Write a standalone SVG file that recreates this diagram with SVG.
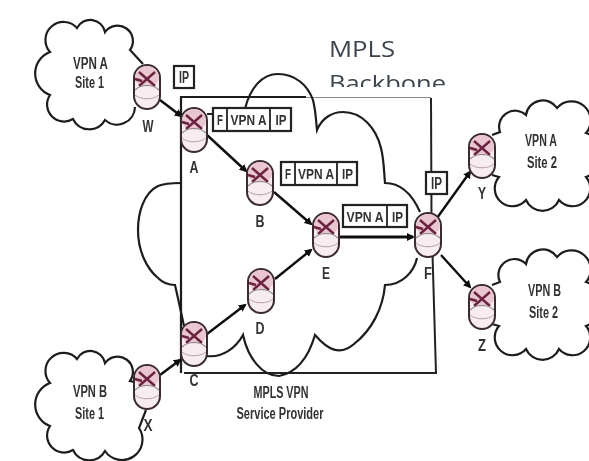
<svg xmlns="http://www.w3.org/2000/svg" width="589" height="461" viewBox="0 0 589 461">
<style>
.l{fill:none;stroke:#1c1c1c;stroke-width:2.2}
.c{stroke:#111;stroke-width:2.4;fill:none;marker-end:url(#ah)}
.b{fill:#fff;stroke:#222;stroke-width:2.200}
.d{stroke:#222;stroke-width:1.800}
text{font-family:"Liberation Sans",Arial,sans-serif;fill:#333;font-weight:bold}
.t{font-size:16px;text-anchor:middle}
.k{font-size:14.500px;text-anchor:middle}
.n{font-size:16px;text-anchor:middle}
.m{font-family:"Open Sans",sans-serif;font-size:22px;fill:#3c4450;font-weight:normal}
</style>
<defs>
<filter id="s" x="-5%" y="-5%" width="110%" height="110%"><feGaussianBlur stdDeviation="0.7"/></filter>
<marker id="ah" markerWidth="9" markerHeight="9" refX="6" refY="4" orient="auto" markerUnits="userSpaceOnUse"><path d="M0 0L8 4L0 8z" fill="#111"/></marker>
<clipPath id="cl"><rect x="320" y="30" width="140" height="57"/></clipPath>
<g id="router">
<rect x="-13" y="-22" width="26" height="44" rx="13" ry="13" fill="#f7ecef" stroke="#3a2b33" stroke-width="2"/>
<path d="M-12-9C-12-25 12-25 12-9C12 2-12 2-12-9z" fill="#e9c6d0"/>
<path d="M-8-15L8-1M8-15L-8-1M-12-8L-5-6" stroke="#6b2340" stroke-width="2.400" fill="none"/>
<path d="M-12 3C-6-3 6-3 12 3" fill="none" stroke="#888" stroke-width="1.200"/>
<path d="M-12 8C-6 13 6 13 12 8" fill="none" stroke="#b9a0a8" stroke-width="1"/>
</g>
</defs>
<rect width="589" height="461" fill="#fff"/>
<g filter="url(#s)">
<g id="backbone-label" clip-path="url(#cl)">
<text class="m" x="329" y="57" textLength="66" lengthAdjust="spacingAndGlyphs">MPLS</text>
<text class="m" x="329" y="91" textLength="117" lengthAdjust="spacingAndGlyphs">Backbone</text>
</g>
<g id="provider-box">
<path class="l" d="M181 373V97H306"/>
<path d="M306 97.500H431" fill="none" stroke="#888" stroke-width="1.200"/>
<path d="M431 98L431.500 220L436 373H184" fill="none" stroke="#222" stroke-width="2"/>
</g>
<g id="provider-cloud">
<path class="l" d="M181 183C172 183 165 183 158 186C144 193 138 212 138 230C138 250 146 268 158 278C164 284 170 285 175 285C178 298 181 312 184 326M245 109C250 88 262 74 278 74C296 74 308 86 313 100C316 112 316 122 317 130C322 118 332 112 343 112C362 112 376 128 381 148C384 160 384 172 385 183C400 183 412 194 420 212M417 258C414 272 402 285 385 285C383 308 372 330 354 344C340 356 328 350 315 335C310 352 300 372 279 376C262 376 248 358 243 335C236 348 222 358 207 356"/>
</g>
<g id="cloud-vpna-site1">
<path class="l" d="M143 64L130 50A15 15 0 0 0 105 32A15 15 0 0 0 77 28A17 17 0 0 0 50 52A23 23 0 0 0 50 95A17 17 0 0 0 73 119A18 18 0 0 0 105 120A18 18 0 0 0 135 107"/>
<text class="t" x="90.500" y="69" textLength="35" lengthAdjust="spacingAndGlyphs">VPN A</text>
<text class="t" x="89.500" y="88" textLength="29" lengthAdjust="spacingAndGlyphs">Site 1</text>
</g>
<g id="cloud-vpnb-site1">
<path class="l" d="M134 382L130 381A15 15 0 0 0 105 363A15 15 0 0 0 77 359A17 17 0 0 0 50 383A23 23 0 0 0 50 426A17 17 0 0 0 73 450A18 18 0 0 0 105 451A18 18 0 0 0 139 428L146 410"/>
<text class="t" x="90" y="397" textLength="34" lengthAdjust="spacingAndGlyphs">VPN B</text>
<text class="t" x="89.500" y="419" textLength="29" lengthAdjust="spacingAndGlyphs">Site 1</text>
</g>
<g id="cloud-vpna-site2">
<path class="l" d="M492 135L500 132A16 16 0 0 1 526 115A17 17 0 0 1 557 108A17 17 0 0 1 586 133A23 23 0 0 1 586 177A16 16 0 0 1 559 200A18 18 0 0 1 526 200A17 17 0 0 1 499 177L492 175"/>
<text class="t" x="541" y="146" textLength="32" lengthAdjust="spacingAndGlyphs">VPN A</text>
<text class="t" x="542" y="168" textLength="30" lengthAdjust="spacingAndGlyphs">Site 2</text>
</g>
<g id="cloud-vpnb-site2">
<path class="l" d="M492 285L500 282A16 16 0 0 1 526 264A17 17 0 0 1 557 257A17 17 0 0 1 586 282A23 23 0 0 1 586 326A16 16 0 0 1 559 349A18 18 0 0 1 526 349A17 17 0 0 1 499 326L492 324"/>
<text class="t" x="544.500" y="296" textLength="33" lengthAdjust="spacingAndGlyphs">VPN B</text>
<text class="t" x="543.500" y="318" textLength="29" lengthAdjust="spacingAndGlyphs">Site 2</text>
</g>
<g id="connectors">
<path class="c" d="M160 100L181 116"/>
<path class="c" d="M207 135L246 171"/>
<path class="c" d="M274 192L311 224"/>
<path class="c" d="M275 279L311 250"/>
<path class="c" d="M207 334L245 305"/>
<path class="c" d="M160 375L180 360"/>
<path class="c" style="stroke-width:3" d="M340 237L413 237"/>
<path class="c" d="M437 218L470 172"/>
<path class="c" d="M441 255L470 287"/>
<path d="M207 114H213" stroke="#222" stroke-width="2"/>
</g>
<g id="node-W"><use href="#router" x="147" y="87"/><text class="n" x="148" y="132" textLength="11" lengthAdjust="spacingAndGlyphs">W</text></g>
<g id="node-A"><use href="#router" x="194" y="130"/><text class="n" x="194" y="173" textLength="9" lengthAdjust="spacingAndGlyphs">A</text></g>
<g id="node-B"><use href="#router" x="260" y="183"/><text class="n" x="260" y="227" textLength="9" lengthAdjust="spacingAndGlyphs">B</text></g>
<g id="node-C"><use href="#router" x="194" y="344"/><text class="n" x="194" y="386" textLength="9" lengthAdjust="spacingAndGlyphs">C</text></g>
<g id="node-D"><use href="#router" x="261" y="291"/><text class="n" x="260" y="334" textLength="9" lengthAdjust="spacingAndGlyphs">D</text></g>
<g id="node-E"><use href="#router" x="326" y="235"/><text class="n" x="326" y="279" textLength="8" lengthAdjust="spacingAndGlyphs">E</text></g>
<g id="node-F"><use href="#router" x="428" y="235"/><text class="n" x="428" y="279" textLength="8" lengthAdjust="spacingAndGlyphs">F</text></g>
<g id="node-Y"><use href="#router" x="482" y="156"/><text class="n" x="482" y="199" textLength="8" lengthAdjust="spacingAndGlyphs">Y</text></g>
<g id="node-Z"><use href="#router" x="482" y="307"/><text class="n" x="482" y="351" textLength="8" lengthAdjust="spacingAndGlyphs">Z</text></g>
<g id="node-X"><use href="#router" x="147" y="387"/><text class="n" x="148" y="431" textLength="9" lengthAdjust="spacingAndGlyphs">X</text></g>
<g id="label-ip-w"><rect class="b" x="174" y="66" width="20" height="22"/><text class="t" x="184" y="83" textLength="10" lengthAdjust="spacingAndGlyphs">IP</text></g>
<g id="label-ip-f"><rect class="b" x="426" y="172" width="21" height="22"/><text class="t" x="436.500" y="189" textLength="11" lengthAdjust="spacingAndGlyphs">IP</text></g>
<g id="label-1">
<rect class="b" x="213" y="108" width="78" height="23"/><path class="d" d="M227 108V131M270 108V131"/>
<text class="k" x="220" y="125" textLength="6" lengthAdjust="spacingAndGlyphs">F</text>
<text class="k" x="248.500" y="125" textLength="36" lengthAdjust="spacingAndGlyphs">VPN A</text>
<text class="k" x="281" y="125" textLength="11" lengthAdjust="spacingAndGlyphs">IP</text>
</g>
<g id="label-2">
<rect class="b" x="281" y="162" width="76" height="23"/><path class="d" d="M295 162V185M337 162V185"/>
<text class="k" x="288" y="179" textLength="6" lengthAdjust="spacingAndGlyphs">F</text>
<text class="k" x="316" y="179" textLength="36" lengthAdjust="spacingAndGlyphs">VPN A</text>
<text class="k" x="347.500" y="179" textLength="11" lengthAdjust="spacingAndGlyphs">IP</text>
</g>
<g id="label-3">
<rect class="b" x="343" y="205" width="64" height="22"/><path class="d" d="M387 205V227"/>
<text class="k" x="365" y="221.500" textLength="37" lengthAdjust="spacingAndGlyphs">VPN A</text>
<text class="k" x="397.500" y="221.500" textLength="11" lengthAdjust="spacingAndGlyphs">IP</text>
</g>
<g id="provider-label">
<text class="t" x="281" y="398" textLength="55" lengthAdjust="spacingAndGlyphs">MPLS VPN</text>
<text class="t" x="280" y="419" textLength="87" lengthAdjust="spacingAndGlyphs">Service Provider</text>
</g>
</g>
</svg>
